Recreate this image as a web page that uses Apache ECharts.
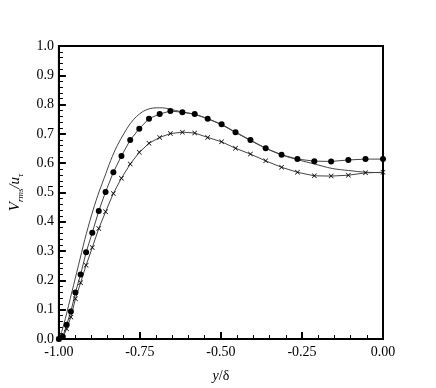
<!DOCTYPE html>
<html><head><meta charset="utf-8">
<script src="https://cdn.jsdelivr.net/npm/echarts@6/dist/echarts.min.js"></script>
<style>html,body{margin:0;padding:0;background:#fff}#c{width:436px;height:388px}</style>
</head><body><div id="c"></div>
<script>
var xTicks = [-1.0, -0.75, -0.5, -0.25, 0.0];
var yTicks = [0.0, 0.1, 0.2, 0.3, 0.4, 0.5, 0.6, 0.7, 0.8, 0.9, 1.0];

var dotX = [-1.0,-0.988,-0.976,-0.963,-0.949,-0.933,-0.916,-0.897,-0.877,-0.856,-0.832,-0.807,-0.780,-0.752,-0.722,-0.689,-0.656,-0.619,-0.581,-0.541,-0.498,-0.455,-0.409,-0.362,-0.313,-0.264,-0.212,-0.160,-0.107,-0.054,0.0];
var dotY = [0.0,0.008,0.049,0.094,0.159,0.220,0.296,0.363,0.437,0.502,0.569,0.625,0.679,0.718,0.752,0.768,0.778,0.774,0.768,0.752,0.733,0.706,0.679,0.651,0.629,0.614,0.607,0.606,0.611,0.614,0.614];

var crossX = [-1.0,-0.988,-0.976,-0.963,-0.949,-0.933,-0.916,-0.897,-0.877,-0.856,-0.832,-0.807,-0.780,-0.752,-0.722,-0.689,-0.656,-0.619,-0.581,-0.541,-0.498,-0.455,-0.409,-0.362,-0.313,-0.264,-0.212,-0.160,-0.107,-0.054,0.0];
var crossY = [0.0,0.005,0.035,0.075,0.137,0.192,0.252,0.312,0.377,0.434,0.497,0.549,0.597,0.637,0.668,0.688,0.701,0.706,0.703,0.688,0.673,0.651,0.631,0.608,0.586,0.569,0.557,0.556,0.559,0.567,0.569];

var lineX = [-1.0,-0.99,-0.98,-0.97,-0.96,-0.95,-0.94,-0.93,-0.92,-0.90,-0.88,-0.86,-0.84,-0.82,-0.80,-0.78,-0.76,-0.74,-0.72,-0.70,-0.68,-0.66,-0.64,-0.62,-0.58,-0.54,-0.50,-0.455,-0.41,-0.36,-0.31,-0.26,-0.214,-0.157,-0.106,-0.05,0.0];
var lineY = [0.0,0.03,0.07,0.115,0.16,0.205,0.25,0.295,0.34,0.42,0.49,0.55,0.61,0.66,0.70,0.735,0.76,0.777,0.786,0.789,0.789,0.785,0.78,0.775,0.766,0.751,0.732,0.705,0.678,0.650,0.627,0.611,0.598,0.582,0.575,0.569,0.568];

function pairs(xs, ys){ return xs.map(function(x,i){ return [x, ys[i]]; }); }

var serif = 'Liberation Serif, Times New Roman, serif';
var chart = echarts.init(document.getElementById('c'));
chart.setOption({
  animation: false,
  backgroundColor: '#fff',
  grid: { left: 57, right: 53, top: 46, bottom: 44, show: true, borderColor: '#000', borderWidth: 2, backgroundColor: 'transparent' },
  xAxis: {
    type: 'value', min: xTicks[0], max: xTicks[xTicks.length-1], interval: 0.25,
    axisLine: { onZero: false, lineStyle: { color: '#000', width: 2 } },
    axisTick: { inside: true, length: 7, lineStyle: { color: '#000', width: 2 } },
    minorTick: { show: true, splitNumber: 5, length: 4, lineStyle: { color: '#000', width: 1 } },
    splitLine: { show: false },
    axisLabel: { color: '#000', fontFamily: serif, fontSize: 14, margin: 6, formatter: function(v){ return v.toFixed(2); } },
    name: '{i|y}/δ', nameLocation: 'middle', nameGap: 30,
    nameTextStyle: { color: '#000', fontFamily: serif, fontSize: 14, rich: { i: { fontStyle: 'italic', fontFamily: serif, fontSize: 14, color: '#000' } } }
  },
  yAxis: {
    type: 'value', min: yTicks[0], max: yTicks[yTicks.length-1], interval: 0.1,
    axisLine: { onZero: false, lineStyle: { color: '#000', width: 2 } },
    axisTick: { inside: true, length: 7, lineStyle: { color: '#000', width: 2 } },
    minorTick: { show: true, splitNumber: 5, length: 4, lineStyle: { color: '#000', width: 1 } },
    splitLine: { show: false },
    axisLabel: { color: '#000', fontFamily: serif, fontSize: 14, margin: 5, formatter: function(v){ return v.toFixed(1); } },
    name: '{i|V}{s|rms}{i|/u}{s|τ}', nameLocation: 'middle', nameGap: 28, nameRotate: 90,
    nameTextStyle: { color: '#000', fontFamily: serif, rich: {
      i: { fontStyle: 'italic', fontFamily: serif, fontSize: 15, color: '#000', lineHeight: 20, verticalAlign: 'middle' },
      s: { fontStyle: 'italic', fontFamily: serif, fontSize: 9, color: '#000', lineHeight: 12, verticalAlign: 'bottom' }
    } }
  },
  series: [
    { type: 'line', data: pairs(lineX, lineY), showSymbol: false, symbol: 'none', smooth: 0.3,
      lineStyle: { color: '#444', width: 1 } },
    { type: 'line', data: pairs(dotX, dotY), symbol: 'circle', symbolSize: 6,
      lineStyle: { color: '#444', width: 1 }, itemStyle: { color: '#000' } },
    { type: 'line', data: pairs(crossX, crossY),
      symbol: 'path://M0,1 L1,0 L5,4 L9,0 L10,1 L6,5 L10,9 L9,10 L5,6 L1,10 L0,9 L4,5 Z', symbolSize: 5,
      lineStyle: { color: '#444', width: 1 }, itemStyle: { color: '#000' } }
  ]
});
</script></body></html>
